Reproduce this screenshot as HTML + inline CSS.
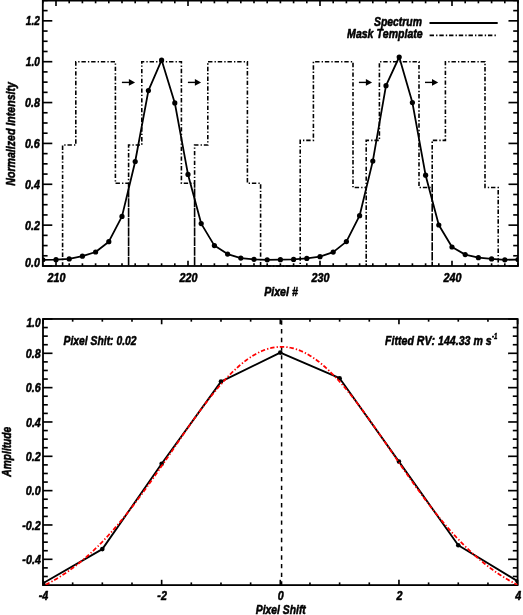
<!DOCTYPE html>
<html><head><meta charset="utf-8"><style>
html,body{margin:0;padding:0;background:#fff;}
svg{display:block;} text{filter:grayscale(1);}
text{font-family:"Liberation Sans",sans-serif;font-weight:bold;font-style:italic;fill:#000;stroke:#000;stroke-width:0.55px;stroke-linejoin:round;font-kerning:none;}
</style></head><body>
<svg width="523" height="615" viewBox="0 0 523 615">
<rect width="523" height="615" fill="#fff"/>
<line x1="42.8" y1="266" x2="42.8" y2="263.3" stroke="#000" stroke-width="1.65" />
<line x1="42.8" y1="0.6" x2="42.8" y2="3.3" stroke="#000" stroke-width="1.65" />
<line x1="56" y1="266" x2="56" y2="260.7" stroke="#000" stroke-width="1.65" />
<line x1="56" y1="0.6" x2="56" y2="5.9" stroke="#000" stroke-width="1.65" />
<line x1="69.2" y1="266" x2="69.2" y2="263.3" stroke="#000" stroke-width="1.65" />
<line x1="69.2" y1="0.6" x2="69.2" y2="3.3" stroke="#000" stroke-width="1.65" />
<line x1="82.4" y1="266" x2="82.4" y2="263.3" stroke="#000" stroke-width="1.65" />
<line x1="82.4" y1="0.6" x2="82.4" y2="3.3" stroke="#000" stroke-width="1.65" />
<line x1="95.6" y1="266" x2="95.6" y2="263.3" stroke="#000" stroke-width="1.65" />
<line x1="95.6" y1="0.6" x2="95.6" y2="3.3" stroke="#000" stroke-width="1.65" />
<line x1="108.8" y1="266" x2="108.8" y2="263.3" stroke="#000" stroke-width="1.65" />
<line x1="108.8" y1="0.6" x2="108.8" y2="3.3" stroke="#000" stroke-width="1.65" />
<line x1="122" y1="266" x2="122" y2="263.3" stroke="#000" stroke-width="1.65" />
<line x1="122" y1="0.6" x2="122" y2="3.3" stroke="#000" stroke-width="1.65" />
<line x1="135.2" y1="266" x2="135.2" y2="263.3" stroke="#000" stroke-width="1.65" />
<line x1="135.2" y1="0.6" x2="135.2" y2="3.3" stroke="#000" stroke-width="1.65" />
<line x1="148.4" y1="266" x2="148.4" y2="263.3" stroke="#000" stroke-width="1.65" />
<line x1="148.4" y1="0.6" x2="148.4" y2="3.3" stroke="#000" stroke-width="1.65" />
<line x1="161.6" y1="266" x2="161.6" y2="263.3" stroke="#000" stroke-width="1.65" />
<line x1="161.6" y1="0.6" x2="161.6" y2="3.3" stroke="#000" stroke-width="1.65" />
<line x1="174.8" y1="266" x2="174.8" y2="263.3" stroke="#000" stroke-width="1.65" />
<line x1="174.8" y1="0.6" x2="174.8" y2="3.3" stroke="#000" stroke-width="1.65" />
<line x1="188" y1="266" x2="188" y2="260.7" stroke="#000" stroke-width="1.65" />
<line x1="188" y1="0.6" x2="188" y2="5.9" stroke="#000" stroke-width="1.65" />
<line x1="201.2" y1="266" x2="201.2" y2="263.3" stroke="#000" stroke-width="1.65" />
<line x1="201.2" y1="0.6" x2="201.2" y2="3.3" stroke="#000" stroke-width="1.65" />
<line x1="214.4" y1="266" x2="214.4" y2="263.3" stroke="#000" stroke-width="1.65" />
<line x1="214.4" y1="0.6" x2="214.4" y2="3.3" stroke="#000" stroke-width="1.65" />
<line x1="227.6" y1="266" x2="227.6" y2="263.3" stroke="#000" stroke-width="1.65" />
<line x1="227.6" y1="0.6" x2="227.6" y2="3.3" stroke="#000" stroke-width="1.65" />
<line x1="240.8" y1="266" x2="240.8" y2="263.3" stroke="#000" stroke-width="1.65" />
<line x1="240.8" y1="0.6" x2="240.8" y2="3.3" stroke="#000" stroke-width="1.65" />
<line x1="254" y1="266" x2="254" y2="263.3" stroke="#000" stroke-width="1.65" />
<line x1="254" y1="0.6" x2="254" y2="3.3" stroke="#000" stroke-width="1.65" />
<line x1="267.2" y1="266" x2="267.2" y2="263.3" stroke="#000" stroke-width="1.65" />
<line x1="267.2" y1="0.6" x2="267.2" y2="3.3" stroke="#000" stroke-width="1.65" />
<line x1="280.4" y1="266" x2="280.4" y2="263.3" stroke="#000" stroke-width="1.65" />
<line x1="280.4" y1="0.6" x2="280.4" y2="3.3" stroke="#000" stroke-width="1.65" />
<line x1="293.6" y1="266" x2="293.6" y2="263.3" stroke="#000" stroke-width="1.65" />
<line x1="293.6" y1="0.6" x2="293.6" y2="3.3" stroke="#000" stroke-width="1.65" />
<line x1="306.8" y1="266" x2="306.8" y2="263.3" stroke="#000" stroke-width="1.65" />
<line x1="306.8" y1="0.6" x2="306.8" y2="3.3" stroke="#000" stroke-width="1.65" />
<line x1="320" y1="266" x2="320" y2="260.7" stroke="#000" stroke-width="1.65" />
<line x1="320" y1="0.6" x2="320" y2="5.9" stroke="#000" stroke-width="1.65" />
<line x1="333.2" y1="266" x2="333.2" y2="263.3" stroke="#000" stroke-width="1.65" />
<line x1="333.2" y1="0.6" x2="333.2" y2="3.3" stroke="#000" stroke-width="1.65" />
<line x1="346.4" y1="266" x2="346.4" y2="263.3" stroke="#000" stroke-width="1.65" />
<line x1="346.4" y1="0.6" x2="346.4" y2="3.3" stroke="#000" stroke-width="1.65" />
<line x1="359.6" y1="266" x2="359.6" y2="263.3" stroke="#000" stroke-width="1.65" />
<line x1="359.6" y1="0.6" x2="359.6" y2="3.3" stroke="#000" stroke-width="1.65" />
<line x1="372.8" y1="266" x2="372.8" y2="263.3" stroke="#000" stroke-width="1.65" />
<line x1="372.8" y1="0.6" x2="372.8" y2="3.3" stroke="#000" stroke-width="1.65" />
<line x1="386" y1="266" x2="386" y2="263.3" stroke="#000" stroke-width="1.65" />
<line x1="386" y1="0.6" x2="386" y2="3.3" stroke="#000" stroke-width="1.65" />
<line x1="399.2" y1="266" x2="399.2" y2="263.3" stroke="#000" stroke-width="1.65" />
<line x1="399.2" y1="0.6" x2="399.2" y2="3.3" stroke="#000" stroke-width="1.65" />
<line x1="412.4" y1="266" x2="412.4" y2="263.3" stroke="#000" stroke-width="1.65" />
<line x1="412.4" y1="0.6" x2="412.4" y2="3.3" stroke="#000" stroke-width="1.65" />
<line x1="425.6" y1="266" x2="425.6" y2="263.3" stroke="#000" stroke-width="1.65" />
<line x1="425.6" y1="0.6" x2="425.6" y2="3.3" stroke="#000" stroke-width="1.65" />
<line x1="438.8" y1="266" x2="438.8" y2="263.3" stroke="#000" stroke-width="1.65" />
<line x1="438.8" y1="0.6" x2="438.8" y2="3.3" stroke="#000" stroke-width="1.65" />
<line x1="452" y1="266" x2="452" y2="260.7" stroke="#000" stroke-width="1.65" />
<line x1="452" y1="0.6" x2="452" y2="5.9" stroke="#000" stroke-width="1.65" />
<line x1="465.2" y1="266" x2="465.2" y2="263.3" stroke="#000" stroke-width="1.65" />
<line x1="465.2" y1="0.6" x2="465.2" y2="3.3" stroke="#000" stroke-width="1.65" />
<line x1="478.4" y1="266" x2="478.4" y2="263.3" stroke="#000" stroke-width="1.65" />
<line x1="478.4" y1="0.6" x2="478.4" y2="3.3" stroke="#000" stroke-width="1.65" />
<line x1="491.6" y1="266" x2="491.6" y2="263.3" stroke="#000" stroke-width="1.65" />
<line x1="491.6" y1="0.6" x2="491.6" y2="3.3" stroke="#000" stroke-width="1.65" />
<line x1="504.8" y1="266" x2="504.8" y2="263.3" stroke="#000" stroke-width="1.65" />
<line x1="504.8" y1="0.6" x2="504.8" y2="3.3" stroke="#000" stroke-width="1.65" />
<line x1="518" y1="266" x2="518" y2="263.3" stroke="#000" stroke-width="1.65" />
<line x1="518" y1="0.6" x2="518" y2="3.3" stroke="#000" stroke-width="1.65" />
<line x1="42.8" y1="266" x2="52.3" y2="266" stroke="#000" stroke-width="1.65" />
<line x1="518" y1="266" x2="508.5" y2="266" stroke="#000" stroke-width="1.65" />
<line x1="42.8" y1="255.78" x2="47.6" y2="255.78" stroke="#000" stroke-width="1.65" />
<line x1="518" y1="255.78" x2="513.2" y2="255.78" stroke="#000" stroke-width="1.65" />
<line x1="42.8" y1="245.57" x2="47.6" y2="245.57" stroke="#000" stroke-width="1.65" />
<line x1="518" y1="245.57" x2="513.2" y2="245.57" stroke="#000" stroke-width="1.65" />
<line x1="42.8" y1="235.35" x2="47.6" y2="235.35" stroke="#000" stroke-width="1.65" />
<line x1="518" y1="235.35" x2="513.2" y2="235.35" stroke="#000" stroke-width="1.65" />
<line x1="42.8" y1="225.14" x2="52.3" y2="225.14" stroke="#000" stroke-width="1.65" />
<line x1="518" y1="225.14" x2="508.5" y2="225.14" stroke="#000" stroke-width="1.65" />
<line x1="42.8" y1="214.93" x2="47.6" y2="214.93" stroke="#000" stroke-width="1.65" />
<line x1="518" y1="214.93" x2="513.2" y2="214.93" stroke="#000" stroke-width="1.65" />
<line x1="42.8" y1="204.71" x2="47.6" y2="204.71" stroke="#000" stroke-width="1.65" />
<line x1="518" y1="204.71" x2="513.2" y2="204.71" stroke="#000" stroke-width="1.65" />
<line x1="42.8" y1="194.5" x2="47.6" y2="194.5" stroke="#000" stroke-width="1.65" />
<line x1="518" y1="194.5" x2="513.2" y2="194.5" stroke="#000" stroke-width="1.65" />
<line x1="42.8" y1="184.28" x2="52.3" y2="184.28" stroke="#000" stroke-width="1.65" />
<line x1="518" y1="184.28" x2="508.5" y2="184.28" stroke="#000" stroke-width="1.65" />
<line x1="42.8" y1="174.06" x2="47.6" y2="174.06" stroke="#000" stroke-width="1.65" />
<line x1="518" y1="174.06" x2="513.2" y2="174.06" stroke="#000" stroke-width="1.65" />
<line x1="42.8" y1="163.85" x2="47.6" y2="163.85" stroke="#000" stroke-width="1.65" />
<line x1="518" y1="163.85" x2="513.2" y2="163.85" stroke="#000" stroke-width="1.65" />
<line x1="42.8" y1="153.63" x2="47.6" y2="153.63" stroke="#000" stroke-width="1.65" />
<line x1="518" y1="153.63" x2="513.2" y2="153.63" stroke="#000" stroke-width="1.65" />
<line x1="42.8" y1="143.42" x2="52.3" y2="143.42" stroke="#000" stroke-width="1.65" />
<line x1="518" y1="143.42" x2="508.5" y2="143.42" stroke="#000" stroke-width="1.65" />
<line x1="42.8" y1="133.2" x2="47.6" y2="133.2" stroke="#000" stroke-width="1.65" />
<line x1="518" y1="133.2" x2="513.2" y2="133.2" stroke="#000" stroke-width="1.65" />
<line x1="42.8" y1="122.99" x2="47.6" y2="122.99" stroke="#000" stroke-width="1.65" />
<line x1="518" y1="122.99" x2="513.2" y2="122.99" stroke="#000" stroke-width="1.65" />
<line x1="42.8" y1="112.77" x2="47.6" y2="112.77" stroke="#000" stroke-width="1.65" />
<line x1="518" y1="112.77" x2="513.2" y2="112.77" stroke="#000" stroke-width="1.65" />
<line x1="42.8" y1="102.56" x2="52.3" y2="102.56" stroke="#000" stroke-width="1.65" />
<line x1="518" y1="102.56" x2="508.5" y2="102.56" stroke="#000" stroke-width="1.65" />
<line x1="42.8" y1="92.34" x2="47.6" y2="92.34" stroke="#000" stroke-width="1.65" />
<line x1="518" y1="92.34" x2="513.2" y2="92.34" stroke="#000" stroke-width="1.65" />
<line x1="42.8" y1="82.13" x2="47.6" y2="82.13" stroke="#000" stroke-width="1.65" />
<line x1="518" y1="82.13" x2="513.2" y2="82.13" stroke="#000" stroke-width="1.65" />
<line x1="42.8" y1="71.91" x2="47.6" y2="71.91" stroke="#000" stroke-width="1.65" />
<line x1="518" y1="71.91" x2="513.2" y2="71.91" stroke="#000" stroke-width="1.65" />
<line x1="42.8" y1="61.7" x2="52.3" y2="61.7" stroke="#000" stroke-width="1.65" />
<line x1="518" y1="61.7" x2="508.5" y2="61.7" stroke="#000" stroke-width="1.65" />
<line x1="42.8" y1="51.48" x2="47.6" y2="51.48" stroke="#000" stroke-width="1.65" />
<line x1="518" y1="51.48" x2="513.2" y2="51.48" stroke="#000" stroke-width="1.65" />
<line x1="42.8" y1="41.27" x2="47.6" y2="41.27" stroke="#000" stroke-width="1.65" />
<line x1="518" y1="41.27" x2="513.2" y2="41.27" stroke="#000" stroke-width="1.65" />
<line x1="42.8" y1="31.05" x2="47.6" y2="31.05" stroke="#000" stroke-width="1.65" />
<line x1="518" y1="31.05" x2="513.2" y2="31.05" stroke="#000" stroke-width="1.65" />
<line x1="42.8" y1="20.84" x2="52.3" y2="20.84" stroke="#000" stroke-width="1.65" />
<line x1="518" y1="20.84" x2="508.5" y2="20.84" stroke="#000" stroke-width="1.65" />
<line x1="42.8" y1="10.62" x2="47.6" y2="10.62" stroke="#000" stroke-width="1.65" />
<line x1="518" y1="10.62" x2="513.2" y2="10.62" stroke="#000" stroke-width="1.65" />
<line x1="42.8" y1="0.41" x2="47.6" y2="0.41" stroke="#000" stroke-width="1.65" />
<line x1="518" y1="0.41" x2="513.2" y2="0.41" stroke="#000" stroke-width="1.65" />
<rect x="42.8" y="0.6" width="475.2" height="265.4" fill="none" stroke="#000" stroke-width="1.8"/>
<text transform="translate(25.04,266.5) scale(0.82,1)" font-size="13.1">0.0</text>
<text transform="translate(25.05,229.74) scale(0.82,1)" font-size="13.1">0.2</text>
<text transform="translate(25.12,188.88) scale(0.82,1)" font-size="13.1">0.4</text>
<text transform="translate(24.88,148.02) scale(0.82,1)" font-size="13.1">0.6</text>
<text transform="translate(24.96,107.16) scale(0.82,1)" font-size="13.1">0.8</text>
<text transform="translate(25.84,66.3) scale(0.77,1)" font-size="13.1">1.0</text>
<text transform="translate(25.84,25.44) scale(0.77,1)" font-size="13.1">1.2</text>
<text transform="translate(47.62,282.4) scale(0.82,1)" font-size="13.1">210</text>
<text transform="translate(179.62,282.4) scale(0.82,1)" font-size="13.1">220</text>
<text transform="translate(311.62,282.4) scale(0.82,1)" font-size="13.1">230</text>
<text transform="translate(443.62,282.4) scale(0.82,1)" font-size="13.1">240</text>
<text transform="translate(264.21,295.7) scale(0.81,1)" font-size="13.1">Pixel #</text>
<text transform="translate(14.6,185.74) rotate(-90) scale(0.81,1)" font-size="13.1">Normalized Intensity</text>
<polyline points="62.6,266 62.6,145.05 75.8,145.05 75.8,61.7 115.4,61.7 115.4,183.26 128.6,183.26 128.6,266 128.6,145.05 141.8,145.05 141.8,61.7 181.4,61.7 181.4,183.26 194.6,183.26 194.6,266 194.6,145.05 207.8,145.05 207.8,61.7 247.4,61.7 247.4,183.26 260.6,183.26 260.6,266 300.2,266 300.2,140.36 313.4,140.36 313.4,61.7 353,61.7 353,187.55 366.2,187.55 366.2,266 366.2,140.36 379.4,140.36 379.4,61.7 419,61.7 419,187.55 432.2,187.55 432.2,266 432.2,140.36 445.4,140.36 445.4,61.7 485,61.7 485,187.55 498.2,187.55 498.2,266" fill="none" stroke="#000" stroke-width="1.6" stroke-dasharray="4.4 2.1 1.35 1.88" stroke-dashoffset="0.67"/>
<clipPath id="c1"><rect x="42.8" y="0.6" width="475.2" height="265.4"/></clipPath>
<g clip-path="url(#c1)"><polyline points="42.8,259.8 56,259.7 69.2,258.9 82.4,256.2 95.6,252 108.8,241.7 122,216.4 135.2,161.5 148.4,90.6 161.6,60.1 174.8,102.9 188,174.4 201.2,223.6 214.4,245.6 227.6,254.1 240.8,258.1 254,259.3 267.2,259.8 280.4,259.7 293.6,259.4 306.8,258.4 320,256.7 333.2,252.1 346.4,241.6 359.6,215.7 372.8,161.1 386,85.7 399.2,57 412.4,102.6 425.6,175.2 438.8,225 452,247 465.2,254.6 478.4,257.7 491.6,258.9 504.8,259.8 518,259.6" fill="none" stroke="#000" stroke-width="1.8" stroke-linejoin="round"/>
<circle cx="42.8" cy="259.8" r="2.6"/>
<circle cx="56" cy="259.7" r="2.6"/>
<circle cx="69.2" cy="258.9" r="2.6"/>
<circle cx="82.4" cy="256.2" r="2.6"/>
<circle cx="95.6" cy="252" r="2.6"/>
<circle cx="108.8" cy="241.7" r="2.6"/>
<circle cx="122" cy="216.4" r="2.6"/>
<circle cx="135.2" cy="161.5" r="2.6"/>
<circle cx="148.4" cy="90.6" r="2.6"/>
<circle cx="161.6" cy="60.1" r="2.6"/>
<circle cx="174.8" cy="102.9" r="2.6"/>
<circle cx="188" cy="174.4" r="2.6"/>
<circle cx="201.2" cy="223.6" r="2.6"/>
<circle cx="214.4" cy="245.6" r="2.6"/>
<circle cx="227.6" cy="254.1" r="2.6"/>
<circle cx="240.8" cy="258.1" r="2.6"/>
<circle cx="254" cy="259.3" r="2.6"/>
<circle cx="267.2" cy="259.8" r="2.6"/>
<circle cx="280.4" cy="259.7" r="2.6"/>
<circle cx="293.6" cy="259.4" r="2.6"/>
<circle cx="306.8" cy="258.4" r="2.6"/>
<circle cx="320" cy="256.7" r="2.6"/>
<circle cx="333.2" cy="252.1" r="2.6"/>
<circle cx="346.4" cy="241.6" r="2.6"/>
<circle cx="359.6" cy="215.7" r="2.6"/>
<circle cx="372.8" cy="161.1" r="2.6"/>
<circle cx="386" cy="85.7" r="2.6"/>
<circle cx="399.2" cy="57" r="2.6"/>
<circle cx="412.4" cy="102.6" r="2.6"/>
<circle cx="425.6" cy="175.2" r="2.6"/>
<circle cx="438.8" cy="225" r="2.6"/>
<circle cx="452" cy="247" r="2.6"/>
<circle cx="465.2" cy="254.6" r="2.6"/>
<circle cx="478.4" cy="257.7" r="2.6"/>
<circle cx="491.6" cy="258.9" r="2.6"/>
<circle cx="504.8" cy="259.8" r="2.6"/>
<circle cx="518" cy="259.6" r="2.6"/>
</g>
<line x1="121.9" y1="82.4" x2="129.9" y2="82.4" stroke="#000" stroke-width="1.4" />
<path d="M135.1,82.4 L128.9,79.1 L128.9,85.7 Z"/>
<line x1="187.9" y1="82.4" x2="195.9" y2="82.4" stroke="#000" stroke-width="1.4" />
<path d="M201.1,82.4 L194.9,79.1 L194.9,85.7 Z"/>
<line x1="358.9" y1="82.4" x2="366.9" y2="82.4" stroke="#000" stroke-width="1.4" />
<path d="M372.1,82.4 L365.9,79.1 L365.9,85.7 Z"/>
<line x1="425" y1="82.4" x2="433" y2="82.4" stroke="#000" stroke-width="1.4" />
<path d="M438.2,82.4 L432,79.1 L432,85.7 Z"/>
<text transform="translate(373.97,25.9) scale(0.84,1)" font-size="12.4">Spectrum</text>
<text transform="translate(347.12,38.4) scale(0.85,1)" font-size="12.4">Mask Template</text>
<line x1="429.5" y1="23" x2="497.7" y2="23" stroke="#000" stroke-width="1.8" />
<line x1="429.6" y1="35.4" x2="496" y2="35.4" stroke="#000" stroke-width="1.6" stroke-dasharray="4.4 2.1 1.35 1.88"/>
<line x1="43" y1="585.1" x2="43" y2="579.8" stroke="#000" stroke-width="1.65" />
<line x1="43" y1="318.97" x2="43" y2="324.27" stroke="#000" stroke-width="1.65" />
<line x1="72.66" y1="585.1" x2="72.66" y2="582.4" stroke="#000" stroke-width="1.65" />
<line x1="72.66" y1="318.97" x2="72.66" y2="321.67" stroke="#000" stroke-width="1.65" />
<line x1="102.33" y1="585.1" x2="102.33" y2="582.4" stroke="#000" stroke-width="1.65" />
<line x1="102.33" y1="318.97" x2="102.33" y2="321.67" stroke="#000" stroke-width="1.65" />
<line x1="131.99" y1="585.1" x2="131.99" y2="582.4" stroke="#000" stroke-width="1.65" />
<line x1="131.99" y1="318.97" x2="131.99" y2="321.67" stroke="#000" stroke-width="1.65" />
<line x1="161.65" y1="585.1" x2="161.65" y2="579.8" stroke="#000" stroke-width="1.65" />
<line x1="161.65" y1="318.97" x2="161.65" y2="324.27" stroke="#000" stroke-width="1.65" />
<line x1="191.31" y1="585.1" x2="191.31" y2="582.4" stroke="#000" stroke-width="1.65" />
<line x1="191.31" y1="318.97" x2="191.31" y2="321.67" stroke="#000" stroke-width="1.65" />
<line x1="220.98" y1="585.1" x2="220.98" y2="582.4" stroke="#000" stroke-width="1.65" />
<line x1="220.98" y1="318.97" x2="220.98" y2="321.67" stroke="#000" stroke-width="1.65" />
<line x1="250.64" y1="585.1" x2="250.64" y2="582.4" stroke="#000" stroke-width="1.65" />
<line x1="250.64" y1="318.97" x2="250.64" y2="321.67" stroke="#000" stroke-width="1.65" />
<line x1="280.3" y1="585.1" x2="280.3" y2="579.8" stroke="#000" stroke-width="1.65" />
<line x1="280.3" y1="318.97" x2="280.3" y2="324.27" stroke="#000" stroke-width="1.65" />
<line x1="309.96" y1="585.1" x2="309.96" y2="582.4" stroke="#000" stroke-width="1.65" />
<line x1="309.96" y1="318.97" x2="309.96" y2="321.67" stroke="#000" stroke-width="1.65" />
<line x1="339.62" y1="585.1" x2="339.62" y2="582.4" stroke="#000" stroke-width="1.65" />
<line x1="339.62" y1="318.97" x2="339.62" y2="321.67" stroke="#000" stroke-width="1.65" />
<line x1="369.29" y1="585.1" x2="369.29" y2="582.4" stroke="#000" stroke-width="1.65" />
<line x1="369.29" y1="318.97" x2="369.29" y2="321.67" stroke="#000" stroke-width="1.65" />
<line x1="398.95" y1="585.1" x2="398.95" y2="579.8" stroke="#000" stroke-width="1.65" />
<line x1="398.95" y1="318.97" x2="398.95" y2="324.27" stroke="#000" stroke-width="1.65" />
<line x1="428.61" y1="585.1" x2="428.61" y2="582.4" stroke="#000" stroke-width="1.65" />
<line x1="428.61" y1="318.97" x2="428.61" y2="321.67" stroke="#000" stroke-width="1.65" />
<line x1="458.28" y1="585.1" x2="458.28" y2="582.4" stroke="#000" stroke-width="1.65" />
<line x1="458.28" y1="318.97" x2="458.28" y2="321.67" stroke="#000" stroke-width="1.65" />
<line x1="487.94" y1="585.1" x2="487.94" y2="582.4" stroke="#000" stroke-width="1.65" />
<line x1="487.94" y1="318.97" x2="487.94" y2="321.67" stroke="#000" stroke-width="1.65" />
<line x1="517.6" y1="585.1" x2="517.6" y2="579.8" stroke="#000" stroke-width="1.65" />
<line x1="517.6" y1="318.97" x2="517.6" y2="324.27" stroke="#000" stroke-width="1.65" />
<line x1="43" y1="585.06" x2="47.8" y2="585.06" stroke="#000" stroke-width="1.65" />
<line x1="517.6" y1="585.06" x2="512.8" y2="585.06" stroke="#000" stroke-width="1.65" />
<line x1="43" y1="576.48" x2="47.8" y2="576.48" stroke="#000" stroke-width="1.65" />
<line x1="517.6" y1="576.48" x2="512.8" y2="576.48" stroke="#000" stroke-width="1.65" />
<line x1="43" y1="567.89" x2="47.8" y2="567.89" stroke="#000" stroke-width="1.65" />
<line x1="517.6" y1="567.89" x2="512.8" y2="567.89" stroke="#000" stroke-width="1.65" />
<line x1="43" y1="559.31" x2="52.5" y2="559.31" stroke="#000" stroke-width="1.65" />
<line x1="517.6" y1="559.31" x2="508.1" y2="559.31" stroke="#000" stroke-width="1.65" />
<line x1="43" y1="550.72" x2="47.8" y2="550.72" stroke="#000" stroke-width="1.65" />
<line x1="517.6" y1="550.72" x2="512.8" y2="550.72" stroke="#000" stroke-width="1.65" />
<line x1="43" y1="542.14" x2="47.8" y2="542.14" stroke="#000" stroke-width="1.65" />
<line x1="517.6" y1="542.14" x2="512.8" y2="542.14" stroke="#000" stroke-width="1.65" />
<line x1="43" y1="533.56" x2="47.8" y2="533.56" stroke="#000" stroke-width="1.65" />
<line x1="517.6" y1="533.56" x2="512.8" y2="533.56" stroke="#000" stroke-width="1.65" />
<line x1="43" y1="524.97" x2="52.5" y2="524.97" stroke="#000" stroke-width="1.65" />
<line x1="517.6" y1="524.97" x2="508.1" y2="524.97" stroke="#000" stroke-width="1.65" />
<line x1="43" y1="516.39" x2="47.8" y2="516.39" stroke="#000" stroke-width="1.65" />
<line x1="517.6" y1="516.39" x2="512.8" y2="516.39" stroke="#000" stroke-width="1.65" />
<line x1="43" y1="507.81" x2="47.8" y2="507.81" stroke="#000" stroke-width="1.65" />
<line x1="517.6" y1="507.81" x2="512.8" y2="507.81" stroke="#000" stroke-width="1.65" />
<line x1="43" y1="499.22" x2="47.8" y2="499.22" stroke="#000" stroke-width="1.65" />
<line x1="517.6" y1="499.22" x2="512.8" y2="499.22" stroke="#000" stroke-width="1.65" />
<line x1="43" y1="490.64" x2="52.5" y2="490.64" stroke="#000" stroke-width="1.65" />
<line x1="517.6" y1="490.64" x2="508.1" y2="490.64" stroke="#000" stroke-width="1.65" />
<line x1="43" y1="482.06" x2="47.8" y2="482.06" stroke="#000" stroke-width="1.65" />
<line x1="517.6" y1="482.06" x2="512.8" y2="482.06" stroke="#000" stroke-width="1.65" />
<line x1="43" y1="473.47" x2="47.8" y2="473.47" stroke="#000" stroke-width="1.65" />
<line x1="517.6" y1="473.47" x2="512.8" y2="473.47" stroke="#000" stroke-width="1.65" />
<line x1="43" y1="464.89" x2="47.8" y2="464.89" stroke="#000" stroke-width="1.65" />
<line x1="517.6" y1="464.89" x2="512.8" y2="464.89" stroke="#000" stroke-width="1.65" />
<line x1="43" y1="456.31" x2="52.5" y2="456.31" stroke="#000" stroke-width="1.65" />
<line x1="517.6" y1="456.31" x2="508.1" y2="456.31" stroke="#000" stroke-width="1.65" />
<line x1="43" y1="447.72" x2="47.8" y2="447.72" stroke="#000" stroke-width="1.65" />
<line x1="517.6" y1="447.72" x2="512.8" y2="447.72" stroke="#000" stroke-width="1.65" />
<line x1="43" y1="439.14" x2="47.8" y2="439.14" stroke="#000" stroke-width="1.65" />
<line x1="517.6" y1="439.14" x2="512.8" y2="439.14" stroke="#000" stroke-width="1.65" />
<line x1="43" y1="430.56" x2="47.8" y2="430.56" stroke="#000" stroke-width="1.65" />
<line x1="517.6" y1="430.56" x2="512.8" y2="430.56" stroke="#000" stroke-width="1.65" />
<line x1="43" y1="421.97" x2="52.5" y2="421.97" stroke="#000" stroke-width="1.65" />
<line x1="517.6" y1="421.97" x2="508.1" y2="421.97" stroke="#000" stroke-width="1.65" />
<line x1="43" y1="413.39" x2="47.8" y2="413.39" stroke="#000" stroke-width="1.65" />
<line x1="517.6" y1="413.39" x2="512.8" y2="413.39" stroke="#000" stroke-width="1.65" />
<line x1="43" y1="404.81" x2="47.8" y2="404.81" stroke="#000" stroke-width="1.65" />
<line x1="517.6" y1="404.81" x2="512.8" y2="404.81" stroke="#000" stroke-width="1.65" />
<line x1="43" y1="396.22" x2="47.8" y2="396.22" stroke="#000" stroke-width="1.65" />
<line x1="517.6" y1="396.22" x2="512.8" y2="396.22" stroke="#000" stroke-width="1.65" />
<line x1="43" y1="387.64" x2="52.5" y2="387.64" stroke="#000" stroke-width="1.65" />
<line x1="517.6" y1="387.64" x2="508.1" y2="387.64" stroke="#000" stroke-width="1.65" />
<line x1="43" y1="379.05" x2="47.8" y2="379.05" stroke="#000" stroke-width="1.65" />
<line x1="517.6" y1="379.05" x2="512.8" y2="379.05" stroke="#000" stroke-width="1.65" />
<line x1="43" y1="370.47" x2="47.8" y2="370.47" stroke="#000" stroke-width="1.65" />
<line x1="517.6" y1="370.47" x2="512.8" y2="370.47" stroke="#000" stroke-width="1.65" />
<line x1="43" y1="361.89" x2="47.8" y2="361.89" stroke="#000" stroke-width="1.65" />
<line x1="517.6" y1="361.89" x2="512.8" y2="361.89" stroke="#000" stroke-width="1.65" />
<line x1="43" y1="353.3" x2="52.5" y2="353.3" stroke="#000" stroke-width="1.65" />
<line x1="517.6" y1="353.3" x2="508.1" y2="353.3" stroke="#000" stroke-width="1.65" />
<line x1="43" y1="344.72" x2="47.8" y2="344.72" stroke="#000" stroke-width="1.65" />
<line x1="517.6" y1="344.72" x2="512.8" y2="344.72" stroke="#000" stroke-width="1.65" />
<line x1="43" y1="336.14" x2="47.8" y2="336.14" stroke="#000" stroke-width="1.65" />
<line x1="517.6" y1="336.14" x2="512.8" y2="336.14" stroke="#000" stroke-width="1.65" />
<line x1="43" y1="327.55" x2="47.8" y2="327.55" stroke="#000" stroke-width="1.65" />
<line x1="517.6" y1="327.55" x2="512.8" y2="327.55" stroke="#000" stroke-width="1.65" />
<line x1="43" y1="318.97" x2="52.5" y2="318.97" stroke="#000" stroke-width="1.65" />
<line x1="517.6" y1="318.97" x2="508.1" y2="318.97" stroke="#000" stroke-width="1.65" />
<rect x="43" y="318.97" width="474.6" height="266.13" fill="none" stroke="#000" stroke-width="1.8"/>
<text transform="translate(22.36,563.91) scale(0.82,1)" font-size="13.1">-0.4</text>
<text transform="translate(22.29,529.57) scale(0.82,1)" font-size="13.1">-0.2</text>
<text transform="translate(25.84,495.24) scale(0.82,1)" font-size="13.1">0.0</text>
<text transform="translate(25.85,460.91) scale(0.82,1)" font-size="13.1">0.2</text>
<text transform="translate(25.92,426.57) scale(0.82,1)" font-size="13.1">0.4</text>
<text transform="translate(25.68,392.24) scale(0.82,1)" font-size="13.1">0.6</text>
<text transform="translate(25.76,357.9) scale(0.82,1)" font-size="13.1">0.8</text>
<text transform="translate(26.43,326.6) scale(0.78,1)" font-size="13.1">1.0</text>
<text transform="translate(38.69,600.3) scale(0.82,1)" font-size="13.1">-4</text>
<text transform="translate(157.31,600.3) scale(0.82,1)" font-size="13.1">-2</text>
<text transform="translate(277.66,600.3) scale(0.82,1)" font-size="13.1">0</text>
<text transform="translate(396.62,600.3) scale(0.82,1)" font-size="13.1">2</text>
<text transform="translate(515.31,600.3) scale(0.82,1)" font-size="13.1">4</text>
<text transform="translate(255.82,613.6) scale(0.79,1)" font-size="13.1">Pixel Shift</text>
<text transform="translate(11.4,476.64) rotate(-90) scale(0.78,1)" font-size="13.1">Amplitude</text>
<clipPath id="c2"><rect x="43" y="318.97" width="474.6" height="266.13"/></clipPath>
<line x1="281.6" y1="318.97" x2="281.6" y2="585.1" stroke="#000" stroke-width="1.5" stroke-dasharray="4.4 4.3" stroke-dashoffset="7.32"/>
<g clip-path="url(#c2)">
<polyline points="43,583.3 102.33,549.1 161.65,463.8 220.98,381.6 280.3,352.6 339.62,378.2 398.95,461.6 458.28,545.2 517.6,581.2" fill="none" stroke="#000" stroke-width="1.85" stroke-linejoin="round"/>
<circle cx="43" cy="583.3" r="2.3"/>
<circle cx="102.33" cy="549.1" r="2.3"/>
<circle cx="161.65" cy="463.8" r="2.3"/>
<circle cx="220.98" cy="381.6" r="2.3"/>
<circle cx="280.3" cy="352.6" r="2.3"/>
<circle cx="339.62" cy="378.2" r="2.3"/>
<circle cx="398.95" cy="461.6" r="2.3"/>
<circle cx="458.28" cy="545.2" r="2.3"/>
<circle cx="517.6" cy="581.2" r="2.3"/>
<polyline points="43,586.11 44.48,585.38 45.97,584.64 47.45,583.87 48.93,583.09 50.42,582.29 51.9,581.48 53.38,580.64 54.87,579.79 56.35,578.92 57.83,578.03 59.31,577.12 60.8,576.19 62.28,575.24 63.76,574.27 65.25,573.29 66.73,572.28 68.21,571.25 69.7,570.2 71.18,569.13 72.66,568.04 74.15,566.93 75.63,565.8 77.11,564.65 78.59,563.48 80.08,562.28 81.56,561.07 83.04,559.83 84.53,558.57 86.01,557.29 87.49,555.99 88.98,554.67 90.46,553.32 91.94,551.96 93.43,550.57 94.91,549.16 96.39,547.73 97.88,546.27 99.36,544.8 100.84,543.3 102.33,541.78 103.81,540.24 105.29,538.68 106.77,537.1 108.26,535.5 109.74,533.87 111.22,532.23 112.71,530.56 114.19,528.88 115.67,527.17 117.16,525.45 118.64,523.7 120.12,521.93 121.61,520.15 123.09,518.35 124.57,516.52 126.05,514.68 127.54,512.82 129.02,510.95 130.5,509.05 131.99,507.14 133.47,505.21 134.95,503.27 136.44,501.31 137.92,499.33 139.4,497.34 140.89,495.34 142.37,493.32 143.85,491.28 145.34,489.24 146.82,487.18 148.3,485.11 149.78,483.03 151.27,480.94 152.75,478.84 154.23,476.73 155.72,474.61 157.2,472.48 158.68,470.34 160.17,468.2 161.65,466.05 163.13,463.9 164.62,461.74 166.1,459.58 167.58,457.41 169.07,455.24 170.55,453.07 172.03,450.9 173.52,448.73 175,446.56 176.48,444.39 177.96,442.22 179.45,440.06 180.93,437.9 182.41,435.75 183.9,433.6 185.38,431.45 186.86,429.32 188.35,427.19 189.83,425.07 191.31,422.97 192.8,420.87 194.28,418.79 195.76,416.71 197.25,414.66 198.73,412.61 200.21,410.58 201.69,408.57 203.18,406.58 204.66,404.6 206.14,402.65 207.63,400.71 209.11,398.79 210.59,396.9 212.08,395.03 213.56,393.18 215.04,391.36 216.53,389.56 218.01,387.79 219.49,386.05 220.98,384.33 222.46,382.64 223.94,380.99 225.42,379.36 226.91,377.77 228.39,376.2 229.87,374.67 231.36,373.18 232.84,371.71 234.32,370.29 235.81,368.9 237.29,367.54 238.77,366.23 240.26,364.95 241.74,363.71 243.22,362.51 244.71,361.35 246.19,360.23 247.67,359.15 249.15,358.12 250.64,357.13 252.12,356.18 253.6,355.27 255.09,354.41 256.57,353.59 258.05,352.81 259.54,352.09 261.02,351.4 262.5,350.77 263.99,350.18 265.47,349.64 266.95,349.14 268.44,348.69 269.92,348.29 271.4,347.94 272.88,347.63 274.37,347.37 275.85,347.17 277.33,347.01 278.82,346.89 280.3,346.83 281.78,346.82 283.27,346.85 284.75,346.93 286.23,347.06 287.72,347.24 289.2,347.47 290.68,347.75 292.17,348.07 293.65,348.44 295.13,348.86 296.61,349.33 298.1,349.85 299.58,350.41 301.06,351.02 302.55,351.67 304.03,352.37 305.51,353.12 307,353.91 308.48,354.75 309.96,355.63 311.45,356.55 312.93,357.52 314.41,358.53 315.89,359.58 317.38,360.68 318.86,361.81 320.34,362.99 321.83,364.2 323.31,365.46 324.79,366.75 326.28,368.08 327.76,369.45 329.24,370.85 330.73,372.3 332.21,373.77 333.69,375.28 335.18,376.82 336.66,378.4 338.14,380.01 339.62,381.65 341.11,383.32 342.59,385.01 344.07,386.74 345.56,388.5 347.04,390.28 348.52,392.09 350.01,393.92 351.49,395.78 352.97,397.66 354.46,399.56 355.94,401.48 357.42,403.43 358.91,405.39 360.39,407.37 361.87,409.38 363.36,411.39 364.84,413.43 366.32,415.48 367.8,417.54 369.29,419.62 370.77,421.71 372.25,423.81 373.74,425.92 375.22,428.04 376.7,430.17 378.19,432.31 379.67,434.46 381.15,436.61 382.64,438.76 384.12,440.93 385.6,443.09 387.08,445.26 388.57,447.43 390.05,449.6 391.53,451.77 393.02,453.94 394.5,456.11 395.98,458.28 397.47,460.44 398.95,462.6 400.43,464.76 401.92,466.91 403.4,469.06 404.88,471.2 406.37,473.33 407.85,475.46 409.33,477.57 410.82,479.68 412.3,481.78 413.78,483.87 415.26,485.94 416.75,488.01 418.23,490.06 419.71,492.1 421.2,494.13 422.68,496.14 424.16,498.14 425.65,500.12 427.13,502.09 428.61,504.05 430.1,505.98 431.58,507.91 433.06,509.81 434.55,511.7 436.03,513.57 437.51,515.42 438.99,517.25 440.48,519.07 441.96,520.87 443.44,522.64 444.93,524.4 446.41,526.14 447.89,527.86 449.38,529.56 450.86,531.23 452.34,532.89 453.83,534.53 455.31,536.14 456.79,537.74 458.28,539.31 459.76,540.86 461.24,542.39 462.72,543.9 464.21,545.39 465.69,546.86 467.17,548.3 468.66,549.72 470.14,551.13 471.62,552.51 473.11,553.86 474.59,555.2 476.07,556.51 477.56,557.81 479.04,559.08 480.52,560.33 482.01,561.56 483.49,562.76 484.97,563.95 486.45,565.11 487.94,566.26 489.42,567.38 490.9,568.48 492.39,569.56 493.87,570.62 495.35,571.66 496.84,572.68 498.32,573.68 499.8,574.66 501.29,575.62 502.77,576.56 504.25,577.49 505.74,578.39 507.22,579.27 508.7,580.13 510.18,580.98 511.67,581.81 513.15,582.62 514.63,583.41 516.12,584.18 517.6,584.94" fill="none" stroke="#ff0000" stroke-width="1.75" stroke-dasharray="4.4 2.1 1.35 1.88" stroke-dashoffset="6.8"/>
</g>
<text transform="translate(63.62,345) scale(0.76,1)" font-size="13.6">Pixel Shit: 0.02</text>
<text transform="translate(385.01,345) scale(0.78,1)" font-size="13.6">Fitted RV: 144.33 m s</text>
<text transform="translate(492.03,339.3) scale(0.71,1)" font-size="8.5">-1</text>
</svg>
</body></html>
